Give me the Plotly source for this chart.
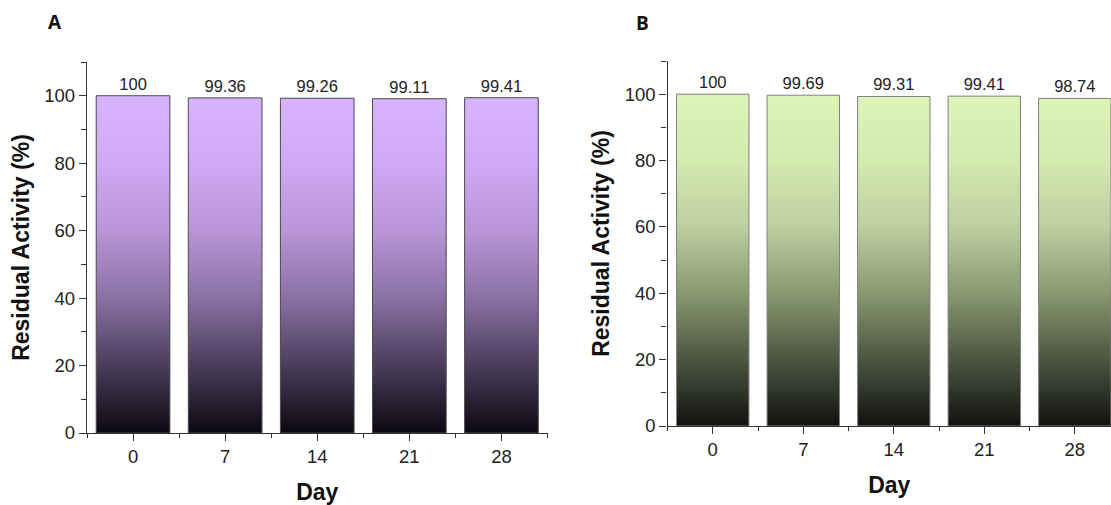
import plotly.graph_objects as go

# ---- data ----
days = ["0", "7", "14", "21", "28"]
activity_a = [100, 99.36, 99.26, 99.11, 99.41]
activity_b = [100, 99.69, 99.31, 99.41, 98.74]
labels_a = ["100", "99.36", "99.26", "99.11", "99.41"]
labels_b = ["100", "99.69", "99.31", "99.41", "98.74"]
y_ticks = [0, 20, 40, 60, 80, 100]

# ---- style ----
FONT = "Liberation Sans, Arial, sans-serif"
BAR_W = 0.8
scale_a = [[0.0, "#0b0810"], [0.2, "#4a3d5a"], [0.4, "#8a71a4"],
           [0.6, "#b895d8"], [0.8, "#cfa9f5"], [1.0, "#d8b4fe"]]
scale_b = [[0.0, "#111210"], [0.2, "#4c5540"], [0.4, "#899870"],
           [0.6, "#bccfa0"], [0.8, "#d3eab0"], [1.0, "#ddf5b9"]]

fig = go.Figure()


def add_panel(values, texts, scale, edge, xa, ya):
    idx = list(range(len(values)))
    # transparent bars carry the value labels
    fig.add_trace(go.Bar(
        x=idx, y=values, width=BAR_W, text=texts, textposition="outside",
        textfont=dict(family=FONT, size=16.5, color="#222222"),
        marker=dict(color="rgba(0,0,0,0)", line=dict(width=0)),
        cliponaxis=False, xaxis=xa, yaxis=ya, showlegend=False,
    ))
    # gradient-filled bar bodies
    for i, v in zip(idx, values):
        x0, x1 = i - BAR_W / 2, i + BAR_W / 2
        fig.add_trace(go.Scatter(
            x=[x0, x0, x1, x1, x0], y=[0, v, v, 0, 0],
            mode="lines", fill="toself",
            fillgradient=dict(type="vertical", colorscale=scale, start=0, stop=100),
            line=dict(color=edge, width=1),
            xaxis=xa, yaxis=ya, showlegend=False, hoverinfo="skip",
        ))


add_panel(activity_a, labels_a, scale_a, "#4a4a4a", "x", "y")
add_panel(activity_b, labels_b, scale_b, "#808080", "x2", "y2")

AX_COL = "#333333"
tickfont = dict(family=FONT, size=18.5, color="#222222")
titlefont = dict(family=FONT, size=23, color="#111111", weight="bold")


def xaxis(domain, rng):
    return dict(
        domain=domain, range=rng, tickvals=list(range(len(days))), ticktext=days,
        showline=True, linecolor=AX_COL, linewidth=1.3, mirror=False,
        ticks="outside", ticklen=7, tickwidth=1.3, tickcolor=AX_COL,
        minor=dict(tickvals=[-0.5, 0.5, 1.5, 2.5, 3.5, 4.5], ticks="outside",
                   ticklen=4, tickwidth=1.2, tickcolor=AX_COL),
        showgrid=False, zeroline=False, tickfont=tickfont,
        title=dict(text="Day", font=titlefont, standoff=17), automargin=False,
        fixedrange=True,
    )


def yaxis(domain, anchor):
    return dict(
        domain=domain, range=[0, 110], anchor=anchor, tickvals=y_ticks,
        showline=True, linecolor=AX_COL, linewidth=1.3,
        ticks="outside", ticklen=7, tickwidth=1.3, tickcolor=AX_COL,
        minor=dict(dtick=10, ticks="outside", ticklen=5, tickwidth=1.2, tickcolor=AX_COL),
        showgrid=False, zeroline=False, tickfont=tickfont,
        title=dict(text="Residual Activity (%)", font=titlefont, standoff=8),
        automargin=False, fixedrange=True,
    )


W, H = 1111, 505
fig.update_layout(
    width=W, height=H, margin=dict(l=0, r=0, t=0, b=0),
    paper_bgcolor="white", plot_bgcolor="white",
    bargap=0.2, showlegend=False,
    xaxis=dict(xaxis([87 / W, 547.5 / W], [-0.5, 4.5]), anchor="y"),
    yaxis=yaxis([72 / H, 443 / H], "x"),
    xaxis2=dict(xaxis([667.5 / W, 1.0], [-0.5, 4.4]), anchor="y2"),
    yaxis2=yaxis([79 / H, 444 / H], "x2"),
    annotations=[
        dict(text="<b>A</b>", x=55 / W, y=1 - 22 / H, xref="paper", yref="paper",
             xanchor="center", yanchor="middle", showarrow=False,
             font=dict(family="Open Sans, sans-serif", size=19, color="#111111")),
        dict(text="<b>B</b>", x=642 / W, y=1 - 23 / H, xref="paper", yref="paper",
             xanchor="center", yanchor="middle", showarrow=False,
             font=dict(family="Open Sans, sans-serif", size=19, color="#111111")),
    ],
)

fig.write_html("out.html")
